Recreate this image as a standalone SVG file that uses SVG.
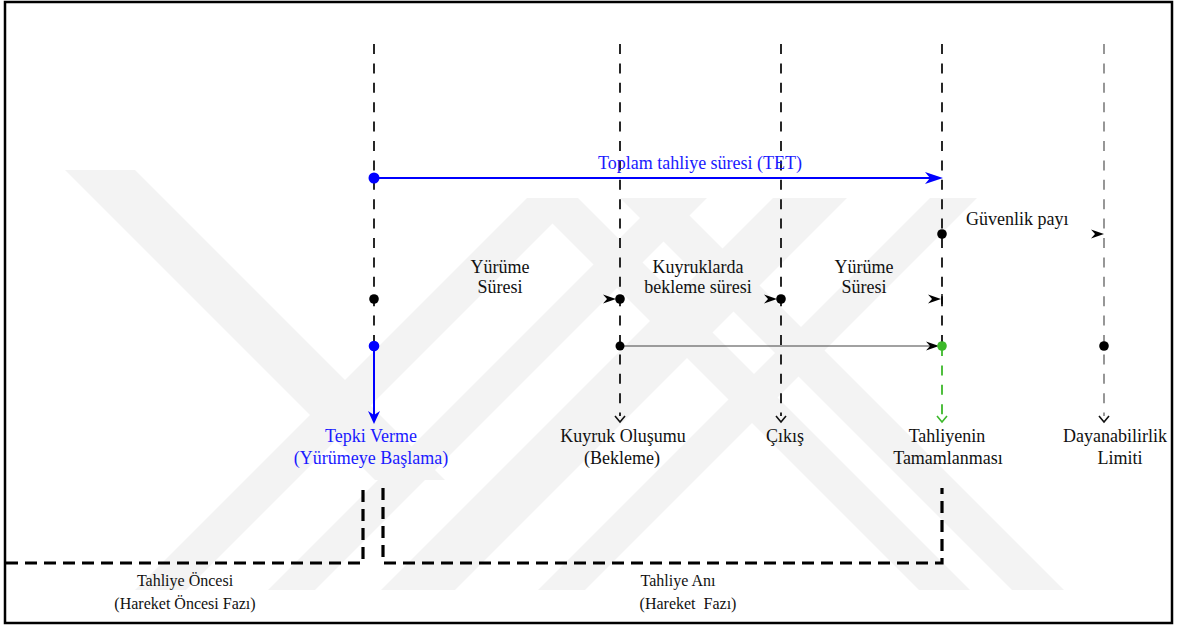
<svg xmlns="http://www.w3.org/2000/svg" width="1178" height="628" viewBox="0 0 1178 628">
  <defs>
    <style>
      text { font-family: "Liberation Serif", "Times New Roman", serif; font-size: 18px; fill: #111; }
      .c { text-anchor: middle; }
      .blue { fill: #1a1aff; }
      .small { font-size: 16px; }
      .guide { stroke: #111; stroke-width: 1.8; stroke-dasharray: 10 9.4; fill: none; }
      .phase { stroke: #000; stroke-width: 3.2; stroke-dasharray: 12 7; fill: none; }
      .chev { stroke: #111; stroke-width: 1.6; fill: none; }
      .dot { fill: #000; }
      .head { fill: #000; }
      .wm { fill: #f3f3f3; }
    </style>
  </defs>

  <rect x="0" y="0" width="1178" height="628" fill="#fff"/>

  <!-- faint background mark -->
  <g id="watermark">
    <polygon class="wm" points="527,198 578,198 186,590 135,590"/>
    <polygon class="wm" points="660,198 707,198 315,590 268,590"/>
    <polygon class="wm" points="773,198 847,198 455,590 381,590"/>
    <polygon class="wm" points="930,198 977,198 585,590 538,590"/>
    <polygon class="wm" points="65,170 135,170 445,480 375,480"/>
    <polygon class="wm" points="527,198 578,198 970,590 919,590"/>
    <polygon class="wm" points="620,198 672,198 1064,590 1012,590"/>
  </g>

  <!-- frame -->
  <rect id="frame" x="5" y="2" width="1167" height="621" fill="none" stroke="#000" stroke-width="2.5"/>

  <!-- connectors -->
  <g id="connectors">
    <!-- vertical timelines -->
    <line class="guide" x1="374" y1="44" x2="374" y2="346"/>
    <line class="guide" x1="620" y1="44" x2="620" y2="416"/>
    <line class="guide" x1="781" y1="44" x2="781" y2="416"/>
    <line class="guide" x1="942" y1="44" x2="942" y2="346"/>
    <line class="guide" x1="942" y1="346" x2="942" y2="416" style="stroke:#3cb82a"/>
    <line class="guide" x1="1104" y1="44" x2="1104" y2="416" style="stroke:#8c8c8c"/>

    <!-- open chevrons at the line ends -->
    <polyline class="chev" points="615,416 620,422 625,416"/>
    <polyline class="chev" points="776,416 781,422 786,416"/>
    <polyline class="chev" points="937,416 942,422 947,416" style="stroke:#3cb82a"/>
    <polyline class="chev" points="1099,416 1104,422 1109,416"/>

    <!-- total evacuation time -->
    <line x1="374" y1="178" x2="930" y2="178" stroke="#0000ff" stroke-width="2.2"/>
    <path d="M943,178 L925,172 L930,178 L925,184 Z" fill="#0000ff"/>

    <!-- reaction: blue arrow down -->
    <line x1="374" y1="346" x2="374" y2="418" stroke="#0000ff" stroke-width="2"/>
    <path d="M374,424 L368,411 L374,415 L380,411 Z" fill="#0000ff"/>

    <!-- walking / queue arrowheads -->
    <path class="head" d="M616,299 L603,294.5 L607,299 L603,303.5 Z"/>
    <path class="head" d="M777,299 L764,294.5 L768,299 L764,303.5 Z"/>
    <path class="head" d="M941,299 L928,294.5 L932,299 L928,303.5 Z"/>
    <line x1="942" y1="294" x2="942" y2="304" stroke="#000" stroke-width="1.4"/>
    <path class="head" d="M1104,234 L1091,229.5 L1095,234 L1091,238.5 Z"/>

    <!-- evacuation span line -->
    <line x1="620" y1="346" x2="934" y2="346" stroke="#444" stroke-width="1.2"/>
    <path class="head" d="M939,346 L926,341.5 L930,346 L926,350.5 Z"/>

    <!-- phase brackets -->
    <path class="phase" d="M6,563 H363 V488"/>
    <path class="phase" d="M383,488 V563 H942 V488"/>
  </g>

  <!-- dots -->
  <g id="points">
    <circle cx="374" cy="178" r="5.5" fill="#0000ff"/>
    <circle class="dot" cx="374" cy="299" r="4.8"/>
    <circle cx="374" cy="346" r="5.3" fill="#0000ff"/>
    <circle class="dot" cx="620" cy="299" r="4.8"/>
    <circle class="dot" cx="620" cy="346" r="4.5"/>
    <circle class="dot" cx="781" cy="299" r="4.8"/>
    <circle class="dot" cx="942" cy="234" r="4.8"/>
    <circle cx="942" cy="346" r="4.8" fill="#3cb82a"/>
    <circle class="dot" cx="1104" cy="346" r="4.8"/>
  </g>

  <g id="label-tet"><text class="c blue" x="700" y="169">Toplam tahliye süresi (TET)</text></g>
  <g id="label-margin"><text x="966" y="225">Güvenlik payı</text></g>
  <g id="label-walk1">
    <text class="c" x="500" y="273">Yürüme</text>
    <text class="c" x="500" y="293">Süresi</text>
  </g>
  <g id="label-queue-wait">
    <text class="c" x="698" y="273">Kuyruklarda</text>
    <text class="c" x="698" y="293">bekleme süresi</text>
  </g>
  <g id="label-walk2">
    <text class="c" x="864" y="273">Yürüme</text>
    <text class="c" x="864" y="293">Süresi</text>
  </g>

  <g id="node-reaction">
    <text class="c blue" x="371" y="442">Tepki Verme</text>
    <text class="c blue" x="371" y="464">(Yürümeye Başlama)</text>
  </g>
  <g id="node-queue">
    <text class="c" x="623" y="442">Kuyruk Oluşumu</text>
    <text class="c" x="622" y="464">(Bekleme)</text>
  </g>
  <g id="node-exit">
    <text class="c" x="785" y="442">Çıkış</text>
  </g>
  <g id="node-complete">
    <text class="c" x="947" y="442">Tahliyenin</text>
    <text class="c" x="948" y="464">Tamamlanması</text>
  </g>
  <g id="node-limit">
    <text class="c" x="1115" y="442">Dayanabilirlik</text>
    <text class="c" x="1120" y="464">Limiti</text>
  </g>

  <g id="phase-pre">
    <text class="c small" x="185" y="586">Tahliye Öncesi</text>
    <text class="c small" x="185" y="609">(Hareket Öncesi Fazı)</text>
  </g>
  <g id="phase-move">
    <text class="c small" x="678" y="586">Tahliye Anı</text>
    <text class="c small" x="688" y="609" style="white-space:pre">(Hareket  Fazı)</text>
  </g>
</svg>
